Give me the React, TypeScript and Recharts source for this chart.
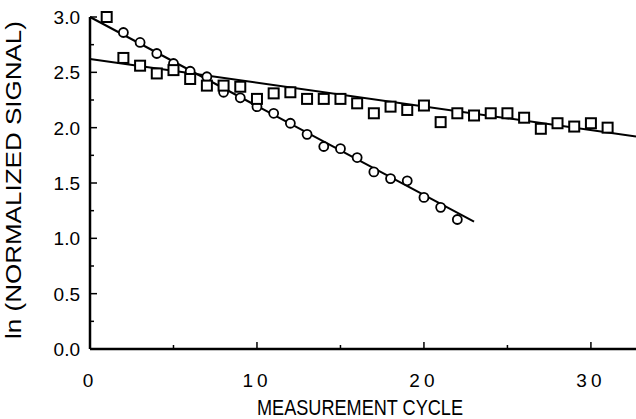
import React from 'react';
import { ComposedChart, Scatter, Line, XAxis, YAxis, Label } from 'recharts';

const circleCycles = [2, 3, 4, 5, 6, 7, 8, 9, 10, 11, 12, 13, 14, 15, 16, 17, 18, 19, 20, 21, 22];
const circleValues = [2.86, 2.77, 2.67, 2.58, 2.51, 2.46, 2.32, 2.27, 2.19, 2.13, 2.04, 1.94, 1.83, 1.81, 1.73, 1.6, 1.54, 1.52, 1.37, 1.28, 1.17];

const squareCycles = [1, 2, 3, 4, 5, 6, 7, 8, 9, 10, 11, 12, 13, 14, 15, 16, 17, 18, 19, 20, 21, 22, 23, 24, 25, 26, 27, 28, 29, 30, 31];
const squareValues = [3.0, 2.63, 2.56, 2.49, 2.52, 2.44, 2.38, 2.38, 2.37, 2.26, 2.31, 2.32, 2.26, 2.26, 2.26, 2.22, 2.13, 2.19, 2.16, 2.2, 2.05, 2.13, 2.11, 2.13, 2.13, 2.09, 1.99, 2.04, 2.01, 2.04, 2.0];

// fitted lines (end points)
const circleFitX = [0, 23];
const circleFitY = [3.0, 1.15];
const squareFitX = [0, 32.7];
const squareFitY = [2.62, 1.92];

const xTicks = [0, 5, 10, 15, 20, 25, 30];
const yTicks = [0, 0.25, 0.5, 0.75, 1, 1.25, 1.5, 1.75, 2, 2.25, 2.5, 2.75, 3];

const toPoints = (xs: number[], ys: number[]) => xs.map((x, i) => ({ x, y: ys[i] }));

const circles = toPoints(circleCycles, circleValues);
const squares = toPoints(squareCycles, squareValues);
const circleFit = toPoints(circleFitX, circleFitY);
const squareFit = toPoints(squareFitX, squareFitY);

const FONT = '"Liberation Sans", Arial, Helvetica, sans-serif';

const XTick = (props: any) => {
  const { x, y, payload } = props;
  const major = payload.value % 10 === 0;
  return (
    <g>
      {payload.value !== 0 && (
        <line x1={x} y1={y} x2={x} y2={y - (major ? 7 : 4)} stroke="#000" strokeWidth={1.5} />
      )}
      {major && (
        <text x={x} y={y + 38} textAnchor="middle" fontSize={19} fontFamily={FONT} letterSpacing={4} fill="#000">
          {payload.value}
        </text>
      )}
    </g>
  );
};

const YTick = (props: any) => {
  const { x, y, payload } = props;
  const major = Math.round(payload.value * 100) % 50 === 0;
  return (
    <g>
      {payload.value !== 0 && (
        <line x1={x} y1={y} x2={x + (major ? 7 : 4)} y2={y} stroke="#000" strokeWidth={1.5} />
      )}
      {major && (
        <text x={x - 10} y={y} dy="0.36em" textAnchor="end" fontSize={19} fontFamily={FONT} fill="#000">
          {payload.value.toFixed(1)}
        </text>
      )}
    </g>
  );
};

const XTitle = (props: any) => {
  const { viewBox } = props;
  const cx = viewBox.x + viewBox.width / 2;
  return (
    <text x={cx - 3} y={415} textAnchor="middle" fontSize={22} fontFamily={FONT} textLength={206} lengthAdjust="spacingAndGlyphs" fill="#000">
      MEASUREMENT CYCLE
    </text>
  );
};

const YTitle = () => (
  <text
    x={0}
    y={0}
    transform="translate(21 180) rotate(-90)"
    textAnchor="middle"
    fontSize={22}
    fontFamily={FONT}
    textLength={318}
    lengthAdjust="spacingAndGlyphs"
    fill="#000"
  >
    ln (NORMALIZED SIGNAL)
  </text>
);

const CircleMark = (props: any) => (
  <circle cx={props.cx} cy={props.cy} r={4.5} fill="#fff" stroke="#000" strokeWidth={1.8} />
);

const SquareMark = (props: any) => (
  <rect x={props.cx - 5} y={props.cy - 5} width={10} height={10} fill="#fff" stroke="#000" strokeWidth={2} />
);

export default function App() {
  return (
    <div style={{ position: 'absolute', left: 0, top: 0, background: '#fff' }}>
      <ComposedChart width={636} height={419} margin={{ top: 17, right: 0, left: 0, bottom: 0 }}>
        <XAxis
          dataKey="x"
          type="number"
          domain={[0, 32.7]}
          ticks={xTicks}
          height={70}
          tickLine={false}
          tickSize={0}
          tickMargin={0}
          axisLine={{ stroke: '#000', strokeWidth: 2.5 }}
          tick={<XTick />}
          interval={0}
        >
          <Label content={<XTitle />} />
        </XAxis>
        <YAxis
          dataKey="y"
          type="number"
          domain={[0, 3]}
          ticks={yTicks}
          width={90}
          tickLine={false}
          tickSize={0}
          tickMargin={0}
          axisLine={{ stroke: '#000', strokeWidth: 2.5 }}
          tick={<YTick />}
          interval={0}
        >
          <Label content={<YTitle />} />
        </YAxis>
        <Line data={circleFit} dataKey="y" type="linear" stroke="#000" strokeWidth={2} dot={false} activeDot={false} isAnimationActive={false} />
        <Line data={squareFit} dataKey="y" type="linear" stroke="#000" strokeWidth={2} dot={false} activeDot={false} isAnimationActive={false} />
        <Scatter data={circles} dataKey="y" shape={<CircleMark />} isAnimationActive={false} />
        <Scatter data={squares} dataKey="y" shape={<SquareMark />} isAnimationActive={false} />
      </ComposedChart>
    </div>
  );
}
